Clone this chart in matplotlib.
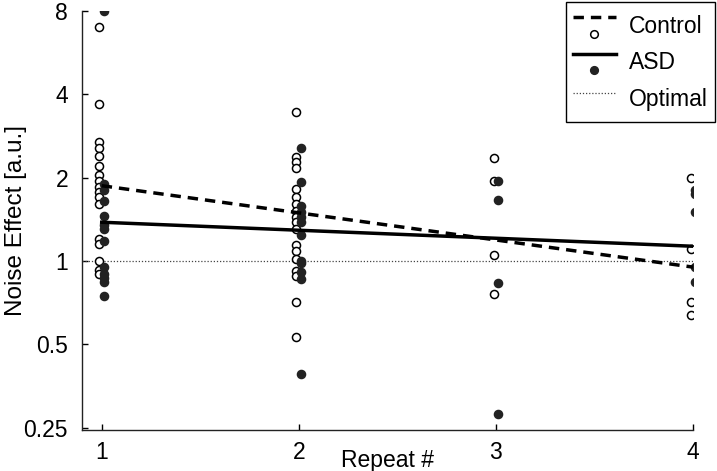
import numpy as np
import matplotlib
matplotlib.use('Agg')
import matplotlib.pyplot as plt
from matplotlib.lines import Line2D
from matplotlib.legend_handler import HandlerBase

plt.rcParams['font.family'] = ['Liberation Sans', 'DejaVu Sans']

# data
repeats = [1, 2, 3, 4]
control_pts = [
    [7.0, 3.7, 2.7, 2.55, 2.4, 2.2, 2.05, 1.95, 1.85, 1.78, 1.7, 1.6, 1.2, 1.15, 1.0, 0.93, 0.9],
    [3.45, 2.38, 2.28, 2.17, 1.82, 1.7, 1.61, 1.52, 1.44, 1.38, 1.3, 1.14, 1.09, 1.02, 0.92, 0.88, 0.71, 0.53],
    [2.36, 1.94, 1.05, 0.76],
    [1.99, 1.1, 0.71, 0.64],
]
asd_pts = [
    [8.0, 1.9, 1.8, 1.65, 1.45, 1.35, 1.3, 1.18, 0.95, 0.9, 0.87, 0.84, 0.75],
    [2.55, 1.93, 1.58, 1.5, 1.44, 1.38, 1.24, 1.0, 0.98, 0.91, 0.86, 0.39],
    [1.95, 1.66, 0.83, 0.28],
    [1.8, 1.75, 1.5, 0.95, 0.84],
]
fit_x = [1, 4]
control_fit = [1.87, 0.95]
asd_fit = [1.38, 1.13]
optimal = 1.0

yticks = [0.25, 0.5, 1, 2, 4, 8]
yticklabels = ['0.25', '0.5', '1', '2', '4', '8']

FS = 16.5


class StackHandler(HandlerBase):
    # line on top, marker underneath (like the old matlab legend)
    def create_artists(self, legend, orig_handle, xdescent, ydescent,
                       width, height, fontsize, trans):
        ln, mk = orig_handle
        l = Line2D([-xdescent, width - xdescent], [0.75 * height - ydescent] * 2,
                   color=ln.get_color(), lw=ln.get_linewidth(),
                   transform=trans)
        if ln.get_linestyle() == '--':
            l.set_dashes((3, 2))
        m = Line2D([width / 2 - xdescent], [0.27 * height - ydescent], ls='none',
                   marker='o', ms=mk.get_markersize(), mfc=mk.get_markerfacecolor(),
                   mec=mk.get_markeredgecolor(), mew=mk.get_markeredgewidth(),
                   transform=trans)
        return [l, m]


fig = plt.figure(figsize=(7.17, 4.71), dpi=100)
ax = fig.add_axes([82 / 717, 1 - 430 / 471, (693 - 82) / 717, (430 - 11) / 471])

off = 0.012
for i, r in enumerate(repeats):
    ax.plot([r - off] * len(control_pts[i]), control_pts[i], 'o', ms=5.8,
            mfc='white', mec='black', mew=1.1, zorder=3)
    ax.plot([r + off] * len(asd_pts[i]), asd_pts[i], 'o', ms=5.8,
            mfc='#222222', mec='#222222', mew=1.1, zorder=3)

lc, = ax.plot(fit_x, control_fit, color='black', lw=2.5, linestyle='--', dashes=(3, 2), zorder=4)
la, = ax.plot(fit_x, asd_fit, color='black', lw=2.5, zorder=4)
lo, = ax.plot([0.9, 4], [optimal, optimal], color='#444444', lw=0.9, linestyle=(0, (1, 1.5)), zorder=2)

mc = Line2D([], [], marker='o', ms=5.5, mfc='white', mec='black', mew=1.1, ls='none')
ma = Line2D([], [], marker='o', ms=5.5, mfc='#222222', mec='#222222', mew=1.1, ls='none')

ax.set_yscale('log')
ax.set_xlim(0.9, 4)
ax.set_ylim(0.245, 8)
ax.set_xticks(repeats)
ax.set_yticks(yticks)
ax.set_yticklabels(yticklabels)
ax.minorticks_off()
ax.tick_params(direction='in', length=4, width=1, labelsize=FS)
ax.tick_params(axis='x', pad=8)
ax.tick_params(axis='y', pad=10)
for s in ['top', 'right']:
    ax.spines[s].set_visible(False)
for s in ['left', 'bottom']:
    ax.spines[s].set_linewidth(1)
    ax.spines[s].set_color('#222222')

ax.set_xlabel('Repeat #', fontsize=FS)
ax.set_ylabel('Noise Effect [a.u.]', fontsize=FS + 1)
ax.xaxis.set_label_coords(0.5, -(449 - 430) / 419)
ax.yaxis.set_label_coords((27 - 82) / 611, 0.5)

leg = ax.legend([(lc, mc), (la, ma), lo], ['Control', 'ASD', 'Optimal'],
                handler_map={tuple: StackHandler()},
                loc='upper right', bbox_to_anchor=(715 / 717, 1 - 2 / 471),
                bbox_transform=fig.transFigure, borderaxespad=0,
                fontsize=FS, handlelength=1.85, handleheight=1.9,
                handletextpad=0.6, labelspacing=0.1, borderpad=0.3,
                fancybox=False, framealpha=1)
leg.get_frame().set_edgecolor('black')
leg.get_frame().set_linewidth(1)

fig.savefig('out.png', dpi=100)
